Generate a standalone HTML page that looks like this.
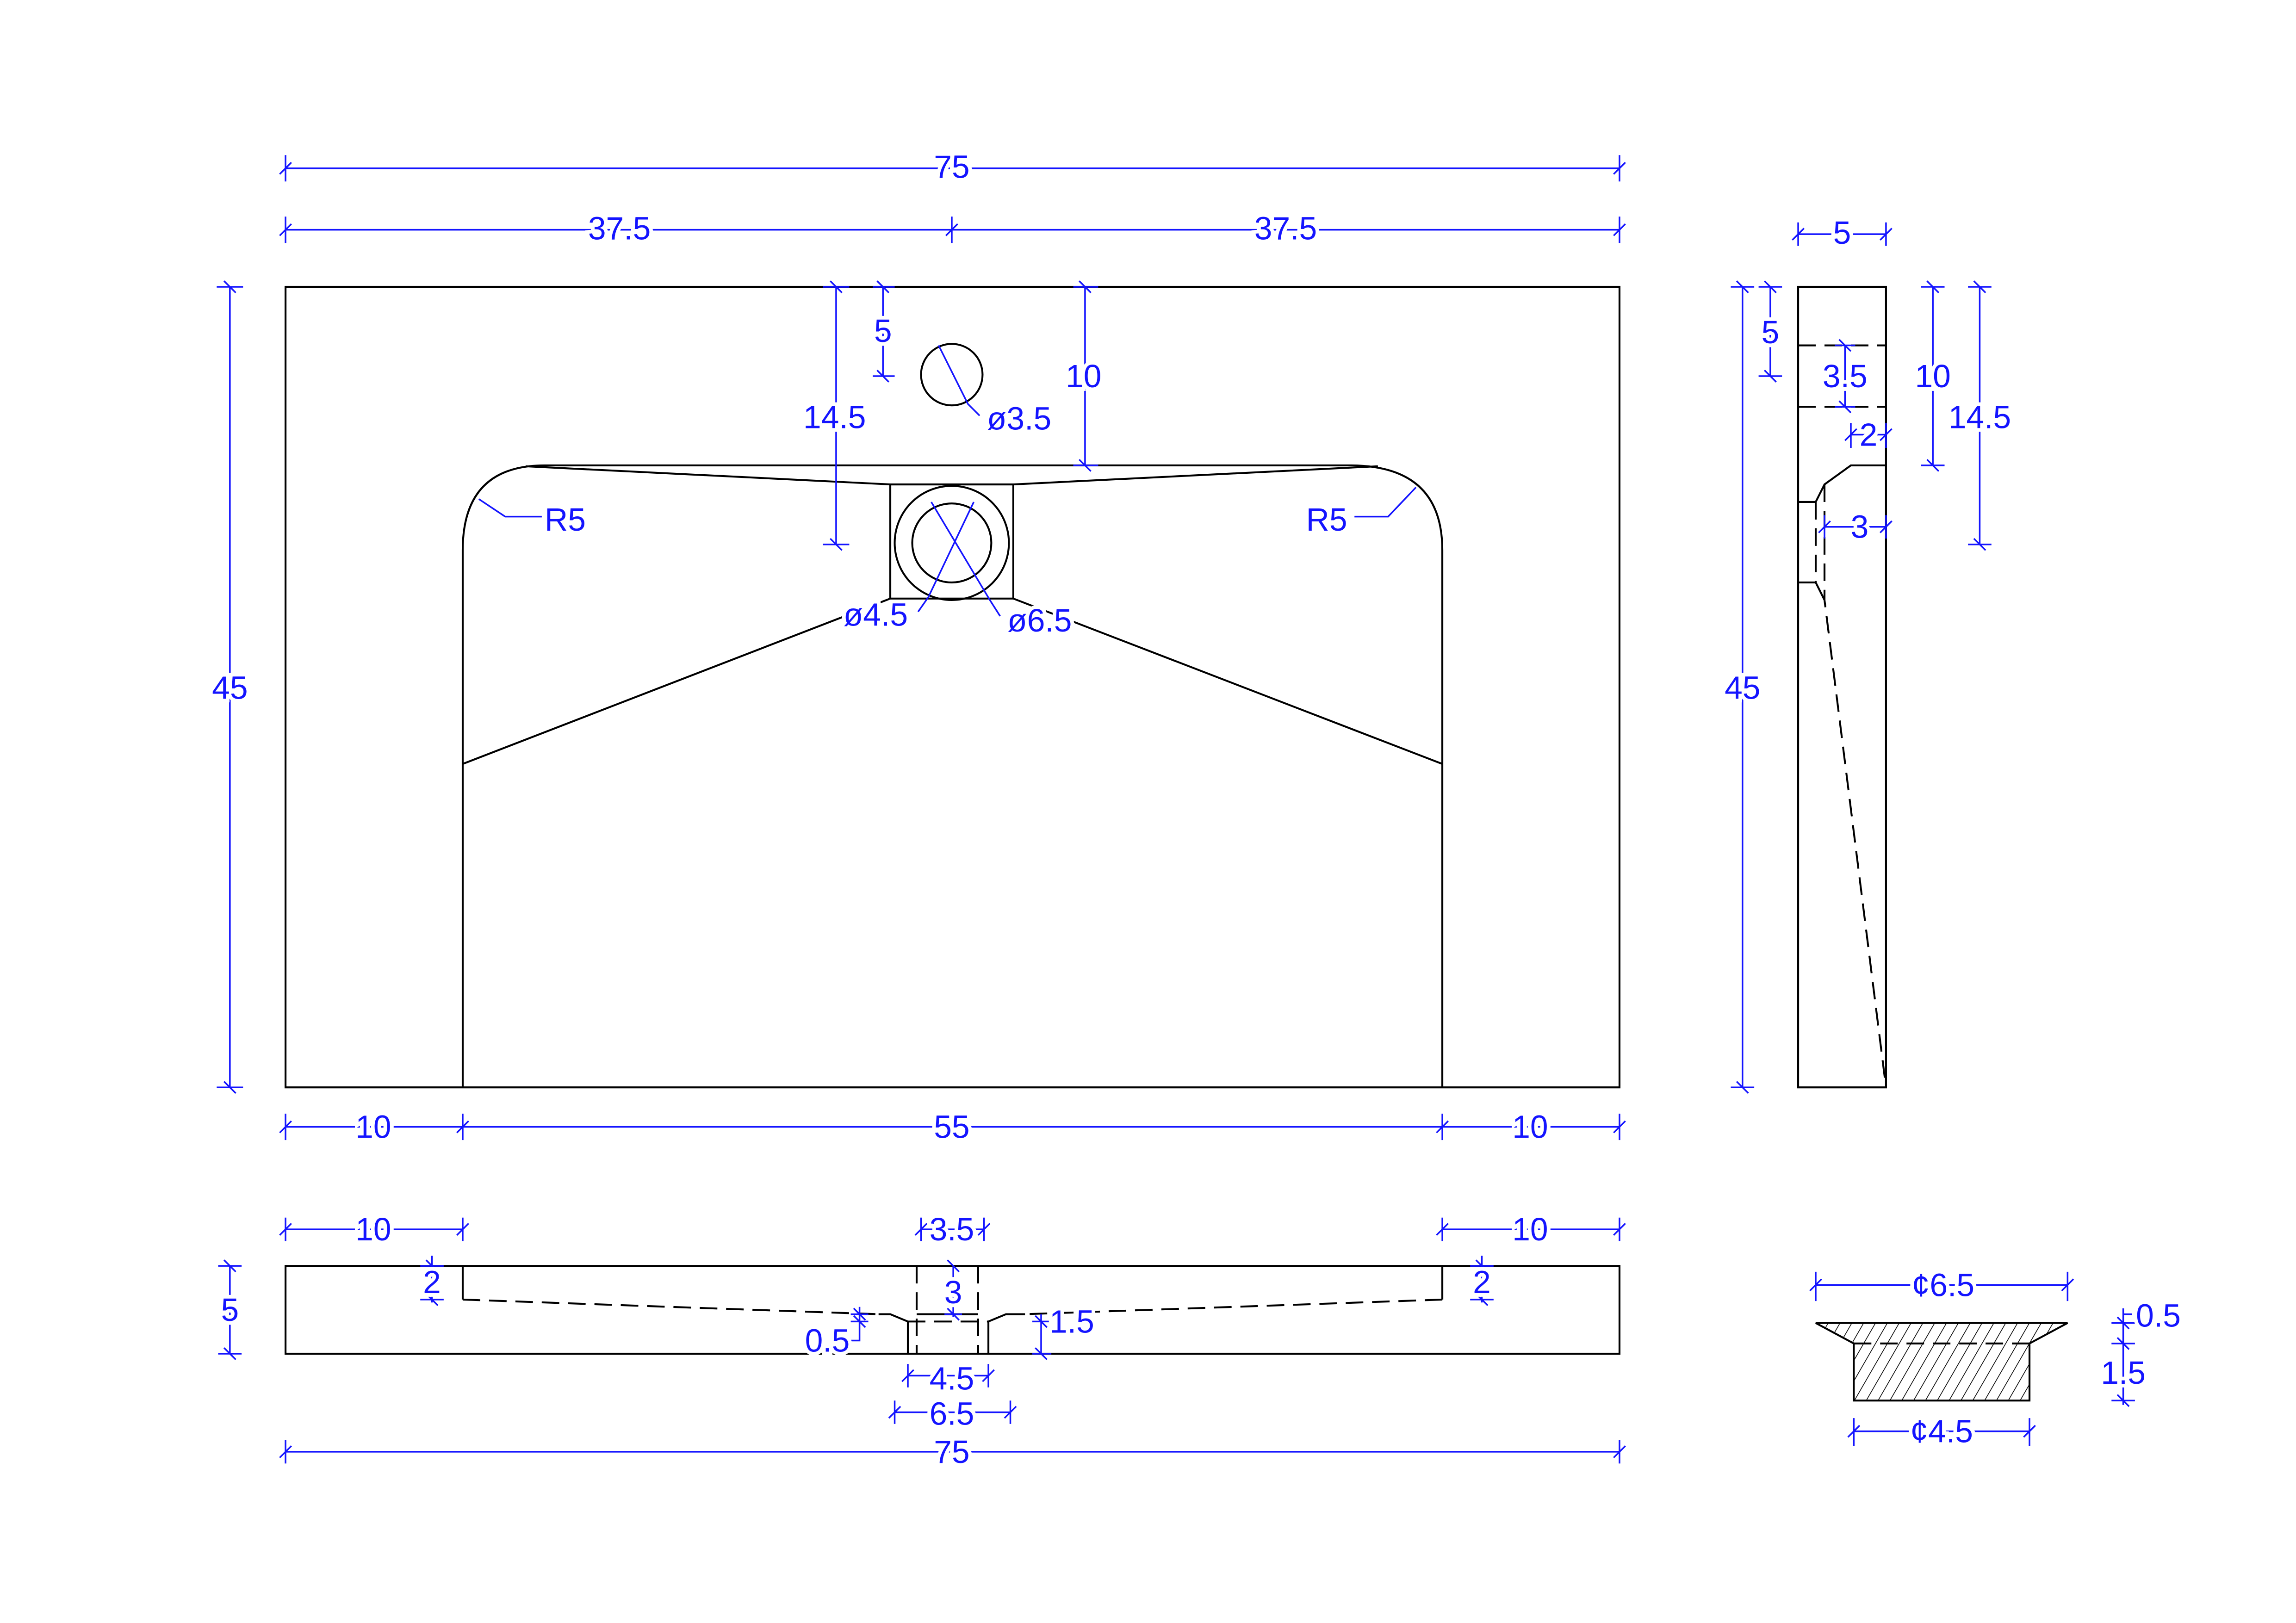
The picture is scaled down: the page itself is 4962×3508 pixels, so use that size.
<!DOCTYPE html>
<html><head><meta charset="utf-8"><style>
html,body{margin:0;padding:0;background:#fff;}
svg{display:block;}
.k{stroke:#000;stroke-width:1.3;fill:none;}
.kd{stroke:#000;stroke-width:1.3;fill:none;stroke-dasharray:12 6;}
.b{stroke:#1414ff;stroke-width:1.1;fill:none;}
text{font-family:"Liberation Sans",sans-serif;font-size:22px;fill:#1414ff;stroke:#fff;stroke-width:5;paint-order:stroke;text-anchor:middle;dominant-baseline:central;}
</style></head><body>
<svg width="4962" height="3508" viewBox="0 0 1568 1109" preserveAspectRatio="none" xmlns="http://www.w3.org/2000/svg">
<defs>
<pattern id="h" width="7" height="7" patternUnits="userSpaceOnUse" patternTransform="rotate(30)">
<line x1="0" y1="0" x2="0" y2="7" stroke="#000" stroke-width="1"/>
</pattern>
</defs>

<!-- MAIN PLAN -->
<rect class="k" x="195" y="196" width="911" height="547"/>
<path class="k" d="M316,743 V376 Q316,318 372,318 H922 Q985,318 985,376 V743"/>
<path class="k" d="M359,318.6 L608,331 H692 L941,318.6"/>
<rect class="k" x="608" y="331" width="84" height="78"/>
<circle class="k" cx="650" cy="371" r="39"/>
<circle class="k" cx="650" cy="371" r="27"/>
<circle class="k" cx="650" cy="256" r="21"/>
<path class="k" d="M608,409 L316,522 M692,409 L985,522"/>

<!-- leaders -->
<path class="b" d="M641,236 L661,276 L669,284"/>
<text x="696" y="286">ø3.5</text>
<path class="b" d="M327,341 L345,353 L370,353"/>
<text x="386" y="355">R5</text>
<path class="b" d="M967,333 L948,353 L925,353"/>
<text x="906" y="355">R5</text>
<path class="b" d="M665,343 L634,408 L627,418"/>
<text x="598" y="420">ø4.5</text>
<path class="b" d="M636,343 L676,410 L683,421"/>
<text x="710" y="424">ø6.5</text>

<!-- horizontal dims top -->
<g class="b">
<path d="M195,115 H1106 M195,106 V124 M1106,106 V124 M191,119 L199,111 M1102,119 L1110,111"/>
<path d="M195,157 H1106 M195,148 V166 M650,148 V166 M1106,148 V166 M191,161 L199,153 M646,161 L654,153 M1102,161 L1110,153"/>
<path d="M195,770 H1106 M195,761 V779 M316,761 V779 M985,761 V779 M1106,761 V779 M191,774 L199,766 M312,774 L320,766 M981,774 L989,766 M1102,774 L1110,766"/>
</g>
<text x="650" y="114">75</text>
<text x="423" y="156">37.5</text>
<text x="878" y="156">37.5</text>
<text x="255" y="770">10</text>
<text x="650" y="770">55</text>
<text x="1045" y="770">10</text>

<!-- vertical dims main -->
<g class="b">
<path d="M157,196 V743 M148,196 H166 M148,743 H166 M153,192 L161,200 M153,739 L161,747"/>
<path d="M571,196 V372 M562,196 H580 M562,372 H580 M567,192 L575,200 M567,368 L575,376"/>
<path d="M603,196 V257 M596,196 H611 M596,257 H611 M599,192 L607,200 M599,253 L607,261"/>
<path d="M741,196 V318 M733,196 H750 M733,318 H750 M737,192 L745,200 M737,314 L745,322"/>
</g>
<text x="157" y="470">45</text>
<text x="570" y="285">14.5</text>
<text x="603" y="226">5</text>
<text x="740" y="257">10</text>

<!-- SIDE VIEW -->
<rect class="k" x="1228" y="196" width="60" height="547"/>
<path class="kd" d="M1228,236 H1288 M1228,278 H1288"/>
<path class="k" d="M1288,318 H1264 L1246,331 L1240,343 H1228 M1228,398 H1240 L1246,410"/>
<path class="kd" d="M1240,343 V398 M1246,331 V410 L1288,743"/>
<g class="b">
<path d="M1228,160 H1288 M1228,152 V168 M1288,152 V168 M1224,164 L1232,156 M1284,164 L1292,156"/>
<path d="M1209,196 V257 M1201,196 H1217 M1201,257 H1217 M1205,192 L1213,200 M1205,253 L1213,261"/>
<path d="M1190,196 V743 M1182,196 H1198 M1182,743 H1198 M1186,192 L1194,200 M1186,739 L1194,747"/>
<path d="M1260,236 V278 M1253,236 H1267 M1253,278 H1267 M1256,232 L1264,240 M1256,274 L1264,282"/>
<path d="M1320,196 V318 M1312,196 H1328 M1312,318 H1328 M1316,192 L1324,200 M1316,314 L1324,322"/>
<path d="M1352,196 V372 M1344,196 H1360 M1344,372 H1360 M1348,192 L1356,200 M1348,368 L1356,376"/>
<path d="M1264,297 H1288 M1264,289 V306 M1288,289 V306 M1260,301 L1268,293 M1284,301 L1292,293"/>
<path d="M1246,360 H1288 M1246,352 V368 M1288,352 V368 M1242,364 L1250,356 M1284,364 L1292,356"/>
</g>
<text x="1258" y="159">5</text>
<text x="1209" y="227">5</text>
<text x="1190" y="470">45</text>
<text x="1260" y="257">3.5</text>
<text x="1320" y="257">10</text>
<text x="1352" y="285">14.5</text>
<text x="1276" y="297">2</text>
<text x="1270" y="360">3</text>

<!-- SECTION VIEW -->
<rect class="k" x="195" y="865" width="911" height="60"/>
<path class="k" d="M316,865 V888 M985,865 V888"/>
<path class="kd" d="M316,888 L600,898 M985,888 L700,898"/>
<path class="k" d="M600,898 L608,898 L620,903 V925 M700,898 L687,898 L675,903 V925 M626,898 H668"/>
<path class="kd" d="M626,865 V925 M668,865 V925 M620,903 H675"/>
<g class="b">
<path d="M195,840 H316 M195,832 V848 M316,832 V848 M191,844 L199,836 M312,844 L320,836"/>
<path d="M985,840 H1106 M985,832 V848 M1106,832 V848 M981,844 L989,836 M1102,844 L1110,836"/>
<path d="M629,840 H672 M629,832 V848 M672,832 V848 M625,844 L633,836 M668,844 L676,836"/>
<path d="M620,940 H675 M620,932 V948 M675,932 V948 M616,944 L624,936 M671,944 L679,936"/>
<path d="M611,965 H690 M611,957 V973 M690,957 V973 M607,969 L615,961 M686,969 L694,961"/>
<path d="M195,992 H1106 M195,984 V1000 M1106,984 V1000 M191,996 L199,988 M1102,996 L1110,988"/>
<path d="M157,865 V925 M149,865 H165 M149,925 H165 M153,861 L161,869 M153,921 L161,929"/>
<path d="M295,858 V890 M287,865 H303 M287,888 H303 M291,861 L299,869 M291,884 L299,892"/>
<path d="M1012,858 V890 M1004,865 H1020 M1004,888 H1020 M1008,861 L1016,869 M1008,884 L1016,892"/>
<path d="M651,865 V900 M645,898 H657 M647,861 L655,869 M647,894 L655,902"/>
<path d="M587,893 V916 H580 M581,898 H593 M581,903 H593 M583,894 L591,902 M583,899 L591,907"/>
<path d="M711,898 V925 H718 M705,903 H717 M705,925 H717 M707,899 L715,907 M707,921 L715,929"/>
</g>
<text x="255" y="840">10</text>
<text x="1045" y="840">10</text>
<text x="650" y="840">3.5</text>
<text x="650" y="942">4.5</text>
<text x="650" y="966">6.5</text>
<text x="650" y="992">75</text>
<text x="157" y="895">5</text>
<text x="295" y="876">2</text>
<text x="1012" y="876">2</text>
<text x="651" y="883">3</text>
<text x="565" y="916">0.5</text>
<text x="732" y="903">1.5</text>

<!-- DETAIL -->
<path d="M1240,904 H1412 L1386,918 V957 H1266 V918 Z" fill="url(#h)" stroke="none"/>
<path class="k" d="M1240,904 H1412 L1386,918 V957 H1266 V918 Z"/>
<path class="kd" d="M1266,918 H1386"/>
<g class="b">
<path d="M1240,878 H1412 M1240,869 V889 M1412,869 V889 M1236,882 L1244,874 M1408,882 L1416,874"/>
<path d="M1266,978 H1386 M1266,969 V988 M1386,969 V988 M1262,982 L1270,974 M1382,982 L1390,974"/>
<path d="M1450,894 V960 M1442,904 H1458 M1442,918 H1458 M1442,957 H1458 M1446,900 L1454,908 M1446,914 L1454,922 M1446,953 L1454,961 M1450,898 H1456"/>
</g>
<text x="1327" y="878">¢6.5</text>
<text x="1326" y="978">¢4.5</text>
<text x="1474" y="899">0.5</text>
<text x="1450" y="938">1.5</text>
</svg>
</body></html>
